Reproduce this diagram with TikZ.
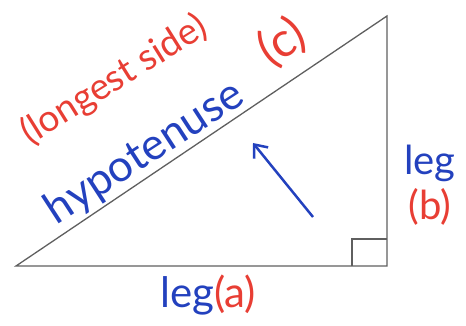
\documentclass[tikz,border=0pt]{standalone}
\usepackage{fontspec}
\setmainfont{Lato}
\usetikzlibrary{arrows.meta}
\definecolor{penblue}{RGB}{35,65,190}
\definecolor{penred}{RGB}{232,62,52}
\definecolor{pencil}{RGB}{95,95,95}

\begin{document}
\begin{tikzpicture}[x=1pt,y=-1pt,every node/.style={inner sep=0pt},
  bluepen/.style={text=penblue},redpen/.style={text=penred}]
\useasboundingbox (0,0) rectangle (466,326);
\coordinate (A) at (16,266);
\coordinate (C) at (387,266);
\coordinate (B) at (387,16);
\draw[pencil,line width=1.3pt] (A) -- (C) -- (B) -- cycle;
\draw[pencil,line width=1.1pt] (352,266) |- (387,239);
% arrow pointing at the hypotenuse
\coordinate (tail) at (313,217);
\coordinate (tip) at (253,143);
\draw[penblue,line width=2.5pt,-{Straight Barb[length=11pt,width=18pt]}] (tail) -- (tip);
\node[bluepen,rotate=33,font=\fontsize{44}{48}\selectfont] (hyp) at (145,153) {hypotenuse};
\node[redpen,rotate=32,font=\fontsize{37}{40}\selectfont] (longest) at (114,80) {(longest side)};
\node[redpen,rotate=32,font=\fontsize{48}{52}\selectfont] (hypc) at (282,42) {(c)};
\node[bluepen,font=\fontsize{40}{44}\selectfont] (legb) at (430,163) {leg};
\node[redpen,font=\fontsize{40}{44}\selectfont] (legbb) at (430,207) {(b)};
\node[font=\fontsize{42}{46}\selectfont] (lega) at (208,295) {{\color{penblue}leg}{\color{penred}(a)}};
\end{tikzpicture}
\end{document}
